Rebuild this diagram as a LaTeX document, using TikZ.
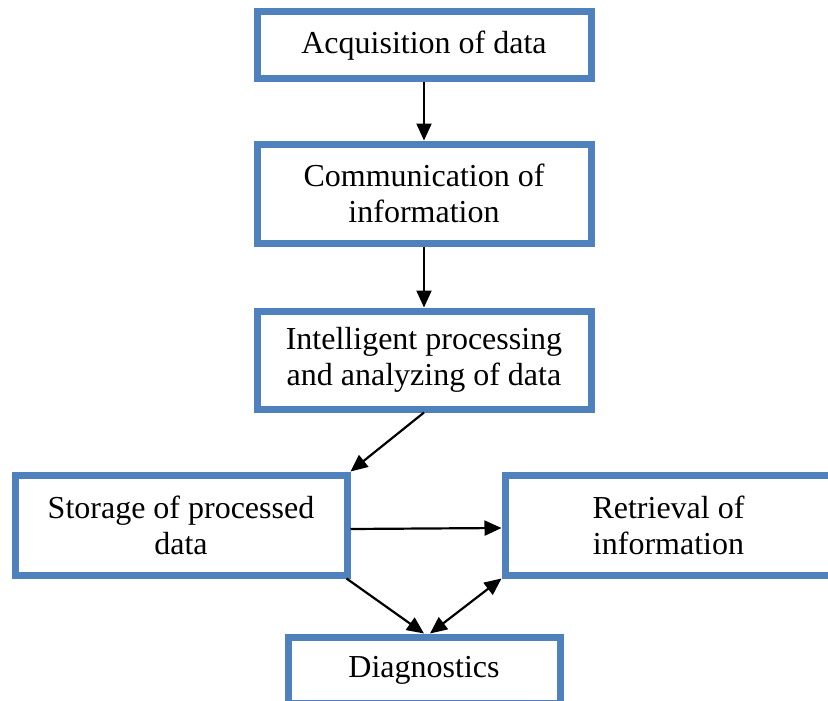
\documentclass[tikz,border=0pt]{standalone}
\usepackage{fontspec}
\setmainfont{Liberation Serif}
\usetikzlibrary{arrows.meta}
\definecolor{boxblue}{HTML}{4F81BD}
\tikzset{
  stage/.style={draw=boxblue, line width=7pt, rectangle, fill=white, align=center,
    font=\fontsize{32}{36}\selectfont, inner sep=0pt},
  conn/.style={line width=2.2pt, -{Triangle[length=17pt,width=15pt]}},
  conn2/.style={line width=2.2pt, {Triangle[length=17pt,width=15pt]}-{Triangle[length=17pt,width=15pt]}}
}
\begin{document}
\begin{tikzpicture}[x=1pt,y=-1pt]
\useasboundingbox (0,0) rectangle (828,701);
\clip (0,0) rectangle (828,701);
\node[stage, minimum width=334pt, minimum height=67pt] (b1) at (424,45.5) {Acquisition of data};
\node[stage, minimum width=334pt, minimum height=99pt] (b2) at (424,193.5) {Communication of\\information};
\node[stage, minimum width=334pt, minimum height=98pt] (b3) at (424,360) {Intelligent processing\\and analyzing of data};
\node[stage, minimum width=332pt, minimum height=100pt] (b4) at (181,525) {Storage of processed\\data};
\node[stage, minimum width=327pt, minimum height=100pt] (b5) at (668.5,525) {Retrieval of\\information};
\node[stage, minimum width=272pt, minimum height=66pt] (b6) at (424,670) {Diagnostics};
\draw[conn] (b1.south) -- (b2.north);
\draw[conn] (b2.south) -- (b3.north);
\draw[conn] (b3.south) -- (b4.north east);
\draw[conn] ([yshift=-4pt]b4.east) -- ([yshift=-3pt]b5.west);
\draw[conn] ([xshift=-4pt]b4.south east) -- (b6.north);
\draw[conn2] ([xshift=6pt]b6.north) -- (b5.south west);
\end{tikzpicture}
\end{document}
